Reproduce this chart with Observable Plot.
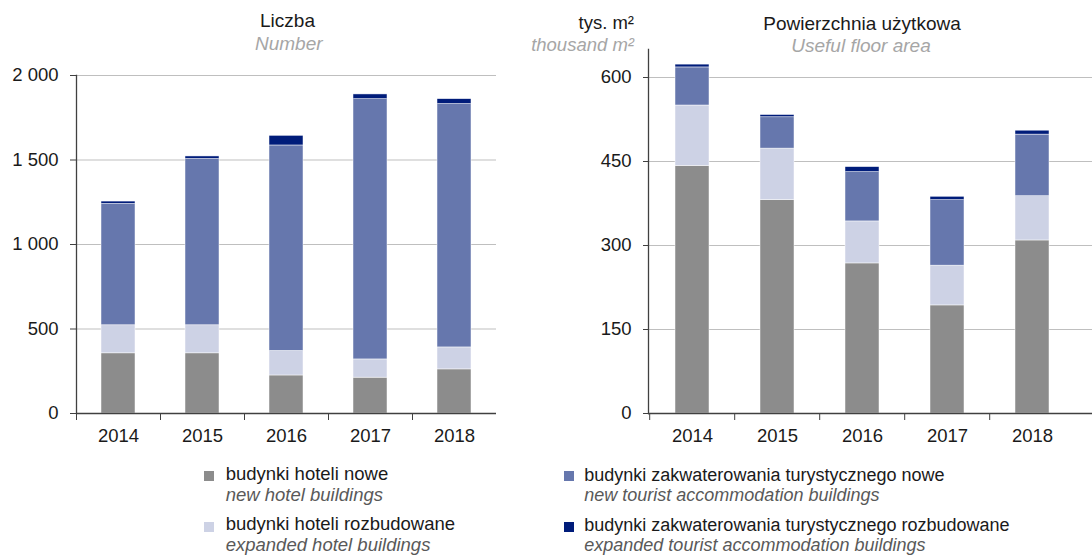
<!DOCTYPE html>
<html><head><meta charset="utf-8">
<script src="https://cdn.jsdelivr.net/npm/d3@7"></script>
<script src="https://cdn.jsdelivr.net/npm/@observablehq/plot@0.6"></script>
<style>
body{margin:0;width:1092px;height:555px;overflow:hidden;background:#fff;font-family:"Liberation Sans",Arial,sans-serif;position:relative}
.t{position:absolute;font-size:18.5px;line-height:18.5px;white-space:nowrap;color:#1a1a1a}
.t.ttl{font-size:19px;line-height:19px}
.t.narrow{font-size:18px;line-height:18px}
.it{font-style:italic}
.sub{color:#a6a6a6}
.leg{color:#595959}
.c{transform:translateX(-50%)}
.r{transform:translateX(-100%)}
#left,#right{position:absolute;top:0}
#left{left:0}
#right{left:546px}
.sw{position:absolute;width:10px;height:10px}
</style></head><body>
<div id="left"></div><div id="right"></div>

<div class="t ttl c" style="left:287.5px;top:11.2px">Liczba</div>
<div class="t ttl c it sub" style="left:288.8px;top:33.9px">Number</div>
<div class="t r" style="left:634px;top:14.3px">tys. m²</div>
<div class="t r it sub" style="left:634px;top:36.3px">thousand m²</div>
<div class="t ttl c" style="left:862px;top:13.9px">Powierzchnia użytkowa</div>
<div class="t ttl c it sub" style="left:861px;top:35.9px">Useful floor area</div>

<div id="legend"></div>

<script>
// ---- data ----
const years = ["2014", "2015", "2016", "2017", "2018"];
const seriesPL = [
  "budynki hoteli nowe",
  "budynki hoteli rozbudowane",
  "budynki zakwaterowania turystycznego nowe",
  "budynki zakwaterowania turystycznego rozbudowane"
];
const seriesEN = [
  "new hotel buildings",
  "expanded hotel buildings",
  "new tourist accommodation buildings",
  "expanded tourist accommodation buildings"
];
const seriesColors = ["#8c8c8c", "#cdd2e5", "#6677ad", "#001c7a"];

// Liczba / Number
const countHotelNew = [356, 356, 225, 212, 261];
const countHotelExp = [166, 166, 145, 108, 130];
const countTouristNew = [718, 984, 1216, 1540, 1440];
const countTouristExp = [14, 15, 57, 28, 29];

// Powierzchnia użytkowa (tys. m²) / Useful floor area (thousand m²)
const areaHotelNew = [442, 381, 268, 193, 309];
const areaHotelExp = [108, 92, 75, 71, 79];
const areaTouristNew = [68, 56, 88, 117, 110];
const areaTouristExp = [5, 4, 9, 6, 7];

const countTicks = [0, 500, 1000, 1500, 2000];
const areaTicks = [0, 150, 300, 450, 600];

// ---- build tables ----
function rows(arrs) {
  const out = [];
  years.forEach((y, i) => arrs.forEach((a, s) => out.push({year: y, series: seriesPL[s], value: a[i]})));
  return out;
}
const countRows = rows([countHotelNew, countHotelExp, countTouristNew, countTouristExp]);
const areaRows = rows([areaHotelNew, areaHotelExp, areaTouristNew, areaTouristExp]);

const loc = d3.formatLocale({decimal: ",", thousands: "\u00a0", grouping: [3], currency: ["", ""]});
const fmt = loc.format(",");

const axisColor = "#404040";
const gridColor = "#bfbfbf";

function chart({data, ticks, yMax, marginLeft, marginRight, marginTop, xRange, tickSize}) {
  const step = (xRange[1] - xRange[0]) / years.length;
  return Plot.plot({
    width: 546,
    height: 455,
    marginLeft, marginRight, marginTop,
    marginBottom: 42,
    style: {fontFamily: '"Liberation Sans", Arial, sans-serif', fontSize: "18.5px", color: "#1a1a1a", background: "transparent", overflow: "visible"},
    x: {domain: years, range: xRange, paddingInner: 0.6, paddingOuter: 0.3, label: null},
    y: {domain: [0, yMax], label: null},
    color: {domain: seriesPL, range: seriesColors},
    marks: [
      Plot.gridY(ticks.filter(d => d > 0), {stroke: gridColor, strokeOpacity: 1, strokeWidth: 1.2}),
      Plot.barY(data, {x: "year", y: "value", fill: "series", order: seriesPL, stroke: "#ffffff", strokeWidth: 0.6, strokeOpacity: 0.8}),
      Plot.axisY(ticks, {tickSize, tickPadding: 12, tickFormat: fmt, stroke: axisColor, label: null}),
      Plot.axisX({tickSize: 7, tickFormat: () => "", dx: -step / 2, stroke: axisColor, label: null}),
      Plot.axisX({tickSize: 0, tickPadding: 15, label: null}),
      Plot.frame({anchor: "left", stroke: axisColor, strokeWidth: 1.3}),
      Plot.ruleY([0], {stroke: axisColor, strokeWidth: 1.3})
    ]
  });
}

document.getElementById("left").append(chart({
  data: countRows, ticks: countTicks, yMax: 2000,
  marginLeft: 76, marginRight: 50, marginTop: 75, xRange: [76, 496], tickSize: 6
}));
document.getElementById("right").append(chart({
  data: areaRows, ticks: areaTicks, yMax: 650,
  marginLeft: 102, marginRight: 0, marginTop: 49, xRange: [102, 530], tickSize: 5
}));

// ---- legend ----
const legPos = [
  {sx: 204, sy: 471, tx: 225.7, ty: 465.3, cls: ""},
  {sx: 204, sy: 522, tx: 225.7, ty: 515.3, cls: ""},
  {sx: 564, sy: 471, tx: 584.3, ty: 465.6, cls: " narrow"},
  {sx: 564, sy: 522, tx: 584.3, ty: 515.6, cls: " narrow"}
];
const leg = document.getElementById("legend");
seriesPL.forEach((s, i) => {
  const p = legPos[i];
  const sw = document.createElement("div");
  sw.className = "sw";
  sw.style.left = p.sx + "px"; sw.style.top = p.sy + "px"; sw.style.background = seriesColors[i];
  leg.append(sw);
  const t1 = document.createElement("div");
  t1.className = "t" + p.cls; t1.style.left = p.tx + "px"; t1.style.top = p.ty + "px"; t1.textContent = s;
  leg.append(t1);
  const t2 = document.createElement("div");
  t2.className = "t it leg" + p.cls; t2.style.left = p.tx + "px"; t2.style.top = (p.ty + 20.8) + "px"; t2.textContent = seriesEN[i];
  leg.append(t2);
});
</script>
</body></html>
